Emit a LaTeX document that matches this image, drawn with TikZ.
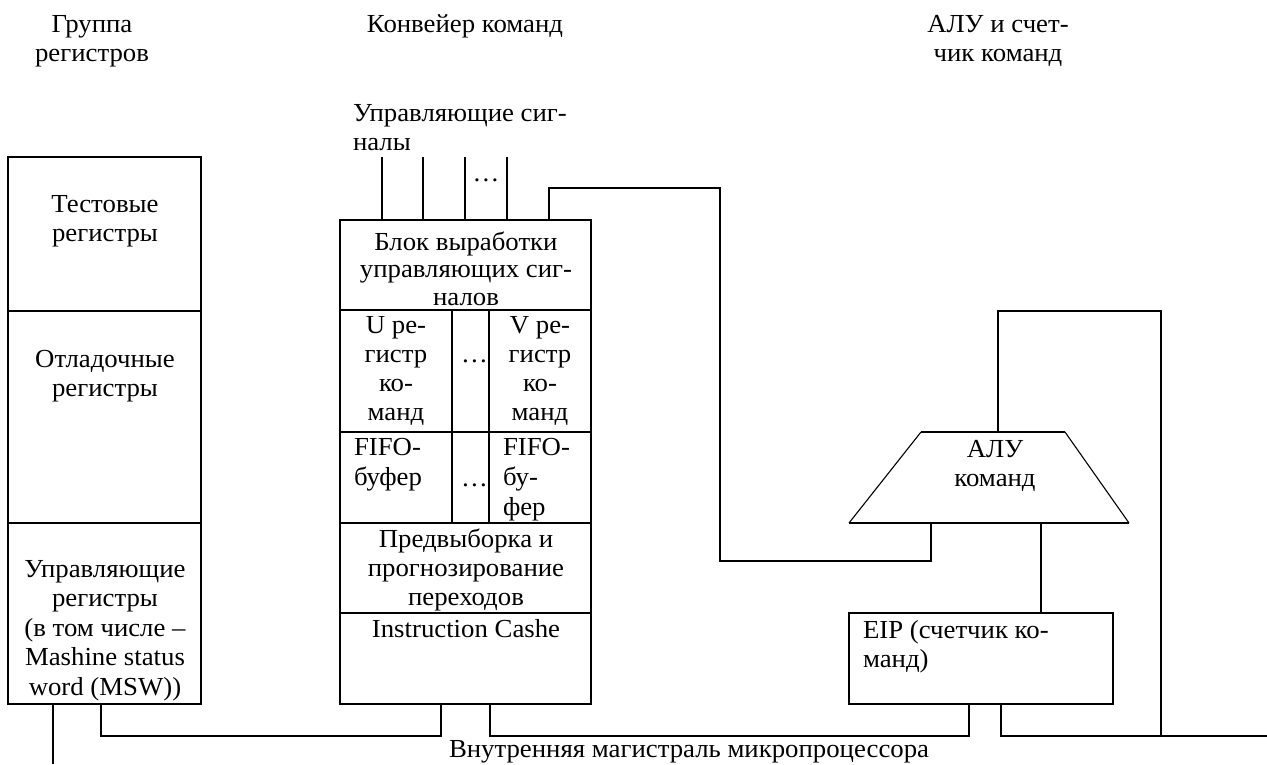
\documentclass[tikz,border=0pt]{standalone}
\usepackage{fontspec}
\setmainfont[FakeStretch=1.03]{Liberation Serif}
\newcommand\mystrut{\rule{0pt}{20pt}}
\begin{document}
\begin{tikzpicture}[x=1pt,y=-1pt,
  ln/.style={line width=2.2pt, line join=miter},
  slant/.style={line width=1.1pt},
  boxnode/.style={draw, line width=2.2pt, inner sep=0pt, outer sep=0pt, anchor=north west},
  txt/.style={inner sep=0pt, outer sep=0pt, font=\fontsize{26}{29.5}\selectfont, align=center, anchor=north},
  txtl/.style={txt, align=left, anchor=north west}]
\fill[white] (0,0) rectangle (1267,764);
\useasboundingbox (0,0) rectangle (1267,764);

% headers
\node[txt] (h1) at (92,12) {\mystrut Группа\\регистров};
\node[txt] (h2) at (465,12) {\mystrut Конвейер команд};
\node[txt] (h3) at (998,12) {\mystrut АЛУ и счет-\\чик команд};
\node[txtl] (sig) at (353,101) {\mystrut Управляющие сиг-\\налы};

% register group
\node[boxnode, minimum width=193pt, minimum height=547pt] (regs) at (8,157) {};
\draw[ln] (8,311) -- (201,311);
\draw[ln] (8,523) -- (201,523);
\node[txt] (t1) at (105,192) {\mystrut Тестовые\\регистры};
\node[txt] (t2) at (105,347) {\mystrut Отладочные\\регистры};
\node[txt] (t3) at (105,557) {\mystrut Управляющие\\регистры\\(в том числе –\\Mashine status\\word (MSW))};

% pipeline
\node[boxnode, minimum width=251pt, minimum height=484pt] (pipe) at (340,220) {};
\draw[ln] (340,310) -- (591,310);
\draw[ln] (340,432) -- (591,432);
\draw[ln] (340,523) -- (591,523);
\draw[ln] (340,613) -- (591,613);
\draw[ln] (452,310) -- (452,523);
\draw[ln] (489,310) -- (489,523);
\node[txt, font=\fontsize{26}{27.5}\selectfont] (blk) at (466,230) {\mystrut Блок выработки\\управляющих сиг-\\налов};
\node[txt, font=\fontsize{26}{29}\selectfont] (ureg) at (396,313) {\mystrut U ре-\\гистр\\ко-\\манд};
\node[txt, anchor=base east] (ud) at (488,362) {…};
\node[txt, font=\fontsize{26}{29}\selectfont] (vreg) at (540,313) {\mystrut V ре-\\гистр\\ко-\\манд};
\node[txtl, font=\fontsize{26}{30}\selectfont] (f1) at (354,435) {\mystrut FIFO-\\буфер};
\node[txt, anchor=base east] (fd) at (488,486) {…};
\node[txtl, font=\fontsize{26}{30}\selectfont] (f2) at (503,435) {\mystrut FIFO-\\бу-\\фер};
\node[txt, font=\fontsize{26}{29}\selectfont] (pred) at (466,527) {\mystrut Предвыборка и\\прогнозирование\\переходов};
\node[txt] (cache) at (466,617) {\mystrut Instruction Cashe};

% control signals
\foreach \x/\n in {382/1,423/2,465/3,507/4}{
  \coordinate (sa\n) at (\x,157);
  \coordinate (sb\n) at (\x,220);
  \draw[ln] (sa\n) -- (sb\n);
}
\node[txt, anchor=base] (sdots) at (486,181) {…};

% ALU
\coordinate (aluTL) at (921,432);
\coordinate (aluTR) at (1065,432);
\coordinate (aluBL) at (849,523);
\coordinate (aluBR) at (1129,523);
\draw[ln] (aluTL) -- (aluTR);
\draw[ln] (aluBL) -- (aluBR);
\draw[slant] (aluBL) -- (aluTL);
\draw[slant] (aluBR) -- (aluTR);
\node[txt] (alu) at (995,437) {\mystrut АЛУ\\команд};

% EIP
\node[boxnode, minimum width=264pt, minimum height=91pt] (eip) at (849,613) {};
\node[txtl] (eipt) at (863,618) {\mystrut EIP (счетчик ко-\\манд)};

% connectors
\coordinate (pa) at (549,220);
\coordinate (alub1) at (931,523);
\draw[ln] (pa) -- (549,188) -- (720,188) -- (720,561) -- (931,561) -- (alub1);
\coordinate (alub2) at (1041,523);
\coordinate (eipt1) at (1041,613);
\draw[ln] (alub2) -- (eipt1);
\coordinate (alut) at (998,432);
\coordinate (busj) at (1161,736);
\draw[ln] (alut) -- (998,311) -- (1161,311) -- (busj);
\coordinate (eipb2) at (1001,704);
\coordinate (busr) at (1267,736);
\draw[ln] (eipb2) -- (1001,736) -- (busr);
\coordinate (eipb1) at (969,704);
\coordinate (cacheb2) at (490,704);
\draw[ln] (eipb1) -- (969,736) -- (490,736) -- (cacheb2);
\coordinate (cacheb1) at (441,704);
\coordinate (regsb2) at (101,704);
\draw[ln] (cacheb1) -- (441,736) -- (101,736) -- (regsb2);
\coordinate (regsb1) at (53,704);
\coordinate (regsend) at (53,764);
\draw[ln] (regsb1) -- (regsend);

\node[txtl, anchor=base west] (bus) at (449,757) {Внутренняя магистраль микропроцессора};
\end{tikzpicture}
\end{document}
